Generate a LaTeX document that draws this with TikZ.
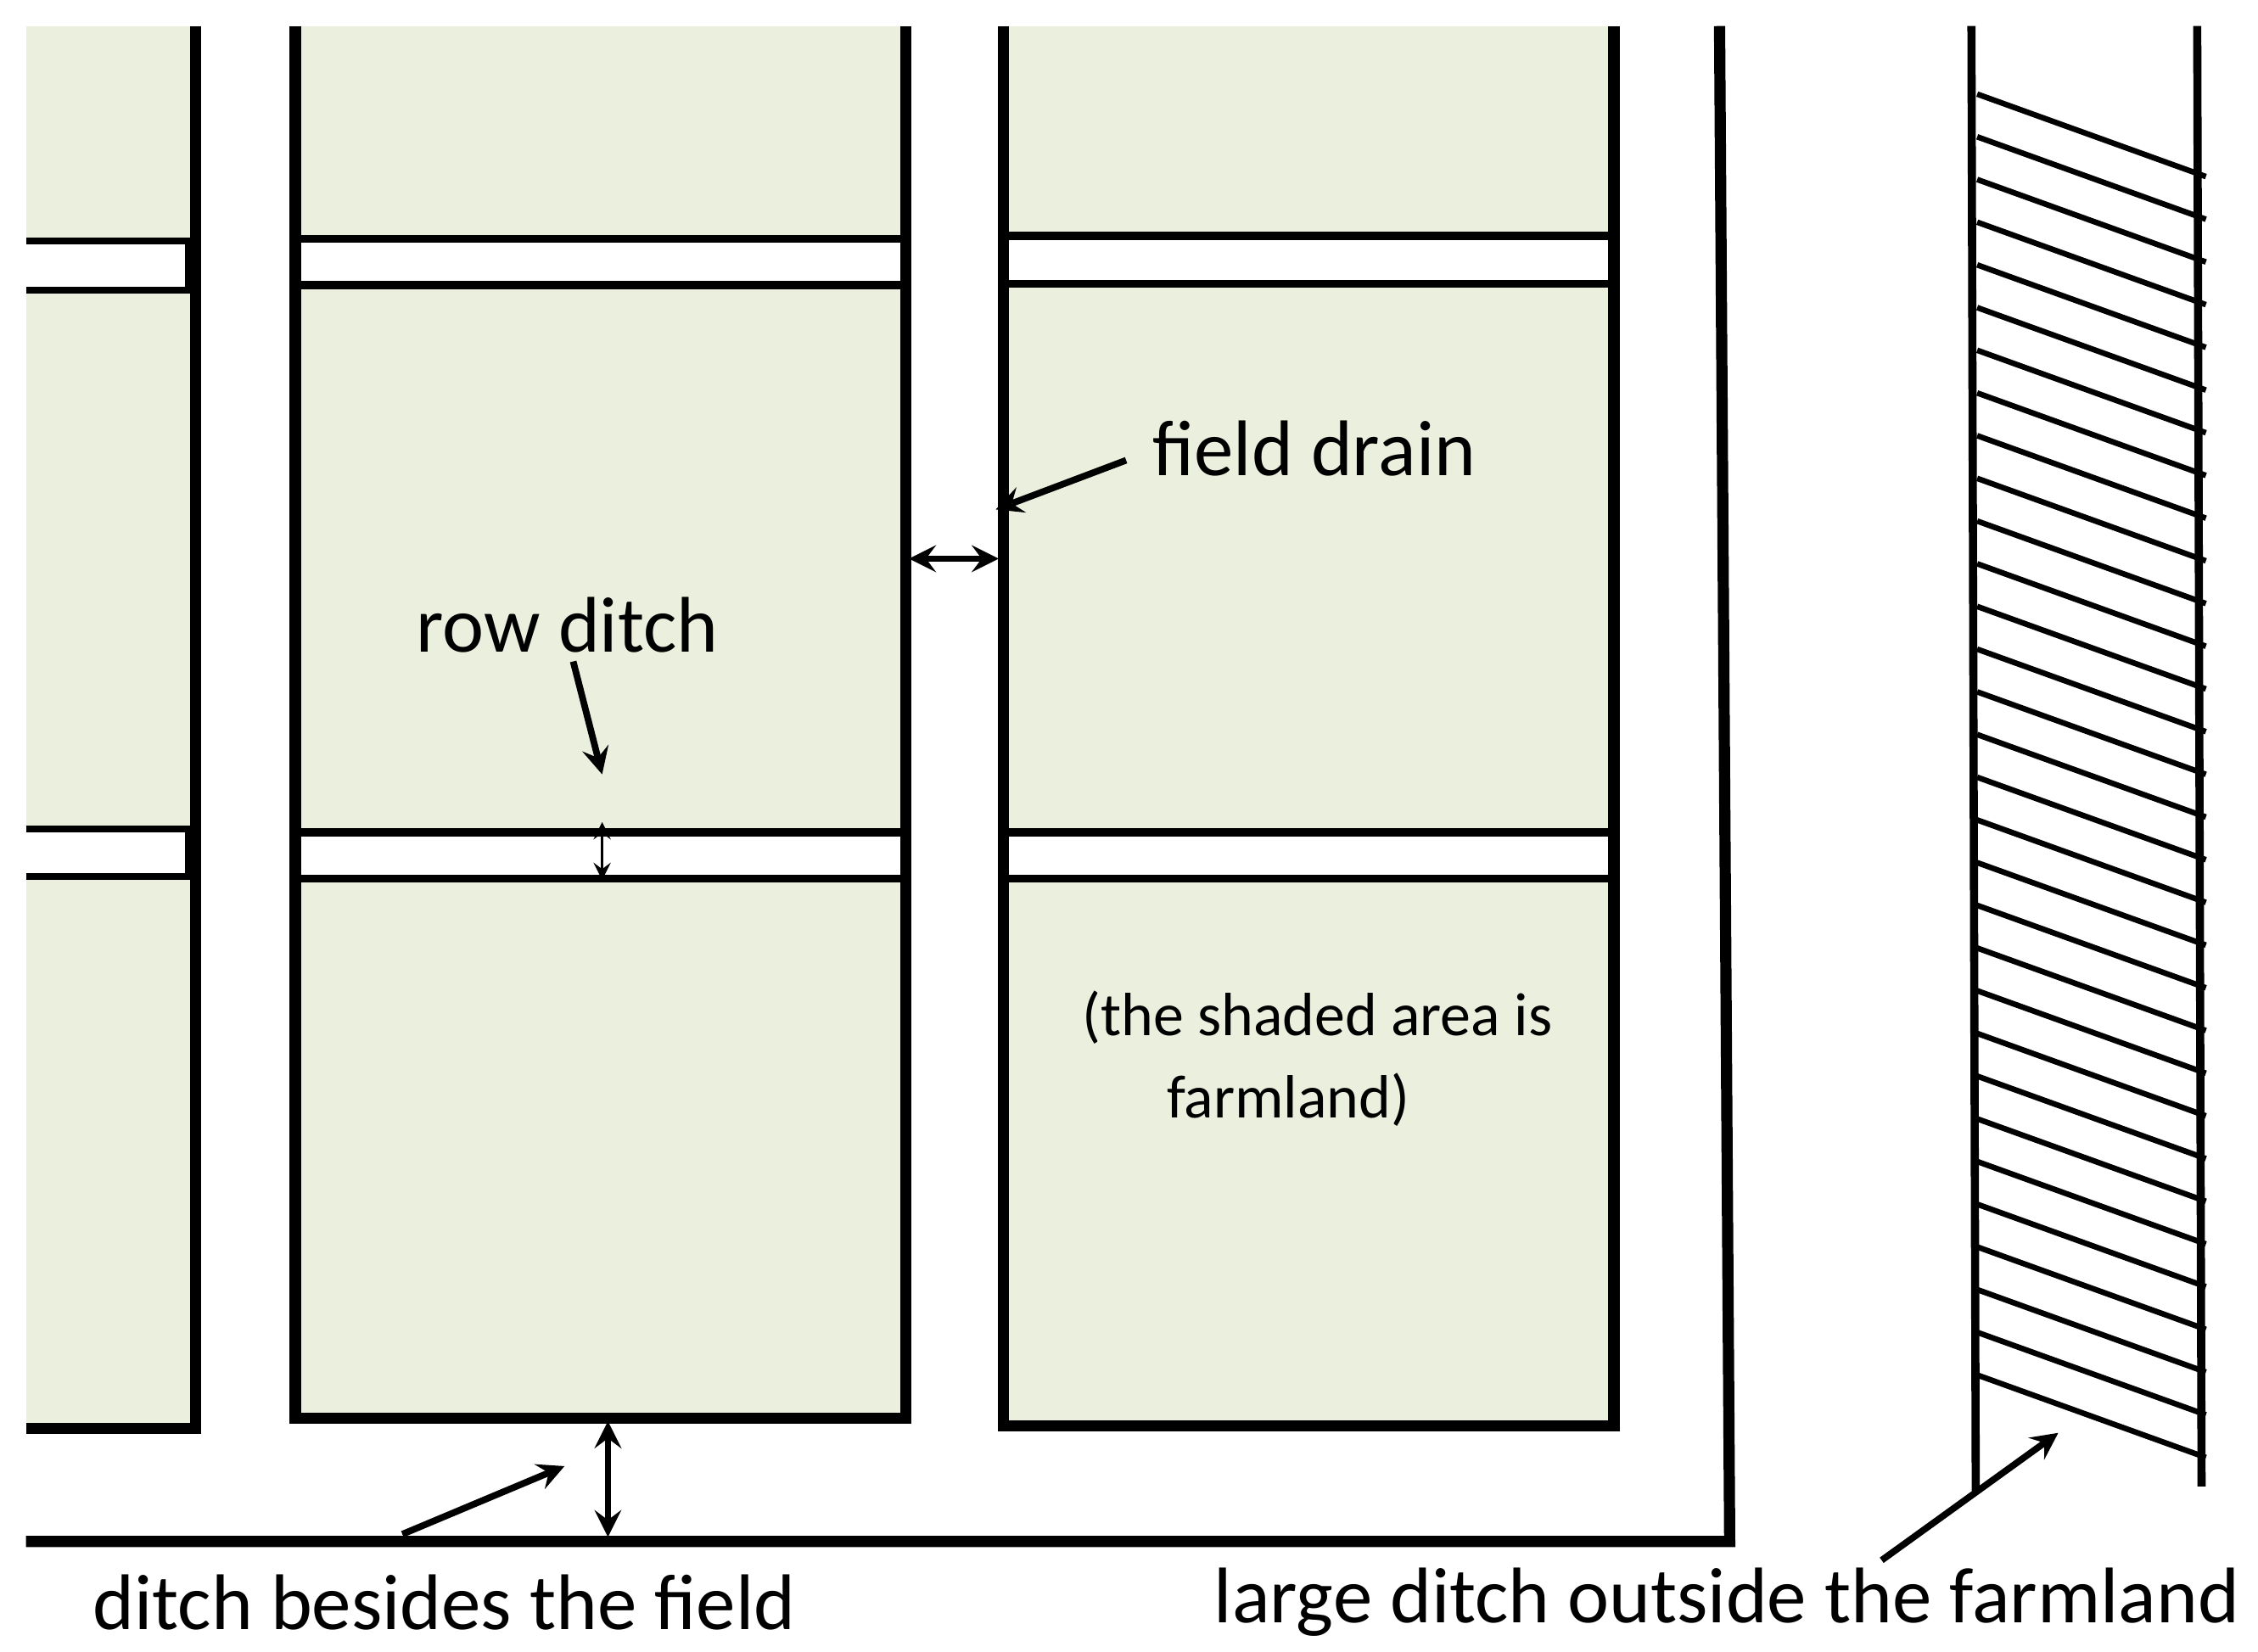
\documentclass[tikz,border=0pt]{standalone}
\usepackage{fontspec}
\setmainfont{Carlito}
\begin{document}
\begin{tikzpicture}[x=0.01cm,y=-0.01cm,
  edge/.style={line width=2.2pt},
  strip/.style={fill=white,draw=black,line width=1.6pt},
  arr/.style={line width=1.3pt,-stealth},
  darr/.style={line width=1.3pt,stealth-stealth},
  lab/.style={font=\fontsize{15.5}{18}\selectfont,inner sep=0pt}]
\definecolor{fieldc}{HTML}{EBEFDE}
\useasboundingbox (0,0) rectangle (1560,1141);
% fields
\fill[fieldc] (18,18) rectangle (135,987);
\fill[fieldc] (204,18) rectangle (626,980);
\fill[fieldc] (693,18) rectangle (1115,985);
\draw[strip] (18,167) -- (130,167) -- (130,200) -- (18,200);
\fill[white] (18,169) rectangle (128,198);
\draw[strip] (18,573) -- (130,573) -- (130,605) -- (18,605);
\fill[white] (18,575) rectangle (128,603);
\draw[strip] (204,165) rectangle (626,197);
\draw[strip] (204,575) rectangle (626,607);
\draw[strip] (693,163) rectangle (1115,196);
\draw[strip] (693,575) rectangle (1115,607);
\draw[edge] (135,18) -- (135,987) -- (18,987);
\draw[edge] (204,18) -- (204,980) -- (626,980) -- (626,18);
\draw[edge] (693,18) -- (693,985) -- (1115,985) -- (1115,18);
\draw[edge] (18,1065) -- (1195,1065) -- (1188,18);
% large ditch
\draw[line width=1.6pt] (1362,18) -- (1365,1030);
\draw[line width=1.6pt] (1518,18) -- (1521,1027);
\foreach \i in {0,...,30} {
  \draw[line width=1.1pt] (1366,{65+29.5*\i}) -- (1524,{122+29.5*\i});
}
% labels
\node[lab] (fd) at (908,310) {field drain};
\coordinate (fdt) at (688,352);
\draw[arr] (778,318) coordinate (fds) -- (fdt);
\coordinate (dl) at (628,386); \coordinate (dr) at (690,386);
\draw[darr] (dl) -- (dr);
\node[lab] (rd) at (392,432) {row ditch};
\coordinate (rds) at (396,457); \coordinate (rdt) at (416,535);
\draw[arr] (rds) -- (rdt);
\coordinate (sa) at (416,568); \coordinate (sb) at (416,608);
\draw[line width=0.5pt,stealth-stealth] (sa) -- (sb);
\coordinate (ba) at (420,982); \coordinate (bb) at (420,1062);
\draw[darr] (ba) -- (bb);
\node[lab] (bf) at (307,1107) {ditch besides the field};
\coordinate (bfs) at (278,1060); \coordinate (bft) at (390,1013);
\draw[arr] (bfs) -- (bft);
\node[lab] (ld) at (1193,1107) {large ditch outside the farmland};
\coordinate (lds) at (1300,1078); \coordinate (ldt) at (1422,990);
\draw[arr] (lds) -- (ldt);
\node[font=\fontsize{12}{14}\selectfont,inner sep=0pt] (s1) at (910,703) {(the shaded area is};
\node[font=\fontsize{12}{14}\selectfont,inner sep=0pt] (s2) at (890,760) {farmland)};
\end{tikzpicture}
\end{document}
